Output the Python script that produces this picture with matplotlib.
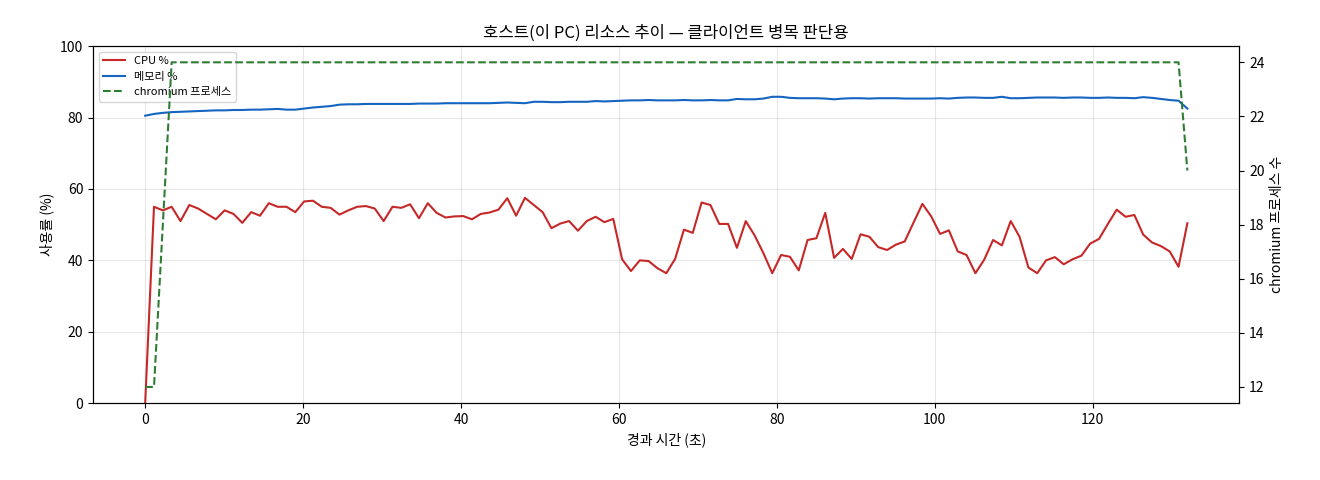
import numpy as np
import matplotlib
matplotlib.use("Agg")
import matplotlib.pyplot as plt

plt.rcParams["font.family"] = ["Noto Sans CJK KR", "DejaVu Sans"]

cpu = [0, 55, 54, 55, 51, 55.5, 54.5, 53, 51.5, 54, 53, 50.5, 53.5, 52.5, 56, 55, 55, 53.5,
       56.5, 56.7, 55, 54.7, 52.8, 54, 55, 55.2, 54.5, 51, 55, 54.7, 55.7, 51.8, 56, 53.3,
       52, 52.3, 52.4, 51.5, 53, 53.4, 54.2, 57.4, 52.5, 57.5, 55.5, 53.5, 49, 50.3, 51,
       48.3, 51, 52.2, 50.7, 51.6, 40.3, 37, 40, 39.8, 37.8, 36.4, 40.4, 48.6, 47.7, 56.2,
       55.5, 50.2, 50.2, 43.5, 51, 47, 42, 36.4, 41.5, 41, 37.2, 45.7, 46.2, 53.3, 40.7,
       43.2, 40.4, 47.3, 46.6, 43.7, 42.9, 44.4, 45.3, 50.6, 55.8, 52.3, 47.4, 48.4, 42.5,
       41.5, 36.4, 40.2, 45.7, 44.2, 51, 46.6, 38, 36.4, 40, 40.9, 38.9, 40.3, 41.3, 44.7,
       46, 50.2, 54.2, 52.2, 52.7, 47.2, 45, 44, 42.5, 38.2, 50.4]

mem = [80.5, 81, 81.3, 81.5, 81.6, 81.7, 81.8, 81.9, 82, 82, 82.1, 82.1, 82.2, 82.2, 82.3, 82.4,
       82.2, 82.2, 82.5, 82.8, 83, 83.2, 83.6, 83.7, 83.7, 83.8, 83.8, 83.8, 83.8, 83.8,
       83.8, 83.9, 83.9, 83.9, 84, 84, 84, 84, 84, 84, 84.1, 84.2, 84.1, 84, 84.4, 84.4,
       84.3, 84.3, 84.4, 84.4, 84.4, 84.6, 84.5, 84.6, 84.7, 84.8, 84.8, 84.9, 84.8, 84.8,
       84.8, 84.9, 84.8, 84.8, 84.9, 84.8, 84.8, 85.2, 85.1, 85.1, 85.3, 85.8, 85.8, 85.5,
       85.4, 85.4, 85.4, 85.3, 85.1, 85.3, 85.4, 85.4, 85.3, 85.4, 85.4, 85.4, 85.3, 85.3,
       85.3, 85.3, 85.4, 85.3, 85.5, 85.6, 85.6, 85.5, 85.5, 85.8, 85.4, 85.4, 85.5, 85.6,
       85.6, 85.6, 85.5, 85.6, 85.6, 85.5, 85.5, 85.6, 85.5, 85.5, 85.4, 85.7, 85.5, 85.2,
       84.9, 84.7, 82.5]

procs = [12, 12, 18] + [24] * 115 + [20]

t = np.linspace(0, 132, len(cpu))

fig, ax = plt.subplots(figsize=(13.2, 4.8), dpi=100)
ax2 = ax.twinx()
l1, = ax.plot(t, cpu, color="#c62828", lw=1.5, label="CPU %")
l2, = ax.plot(t, mem, color="#1565c0", lw=1.5, label="메모리 %")
l3, = ax2.plot(t, procs, color="#2e7d32", lw=1.5, ls="--", label="chromium 프로세스")
ax.set_ylim(0, 100)
ax.set_xlabel("경과 시간 (초)")
ax.set_ylabel("사용률 (%)")
ax2.set_ylabel("chromium 프로세스 수")
ax.set_title("호스트(이 PC) 리소스 추이 — 클라이언트 병목 판단용")
ax.grid(alpha=0.3)
ax.legend(handles=[l1, l2, l3], loc="upper left", fontsize=8)
plt.subplots_adjust(left=0.0705, right=0.939, top=0.904, bottom=0.16)
plt.savefig("out.png")
plt.close()
